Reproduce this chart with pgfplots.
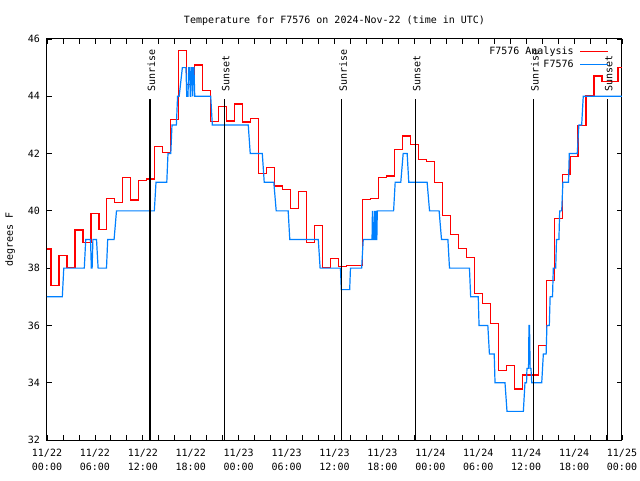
\documentclass[border=0pt]{standalone}
\usepackage{fontspec}
\setmainfont{DejaVu Sans Mono}
\setmonofont{DejaVu Sans Mono}
\usepackage{pgfplots}
\pgfplotsset{compat=1.18}
\definecolor{obsblue}{RGB}{0,128,255}
\newcommand{\gfont}{\fontsize{10}{14}\selectfont}
\begin{document}
\begin{tikzpicture}[x=1pt,y=1pt]
\path[use as bounding box] (-47,-40) rectangle (593,440);
\begin{axis}[
  at={(0,0)}, anchor=south west,
  scale only axis, width=575pt, height=401pt,
  xmin=0, xmax=72, ymin=32, ymax=46,
  xtick={0,6,...,72},
  minor xtick={2,4,8,10,14,16,20,22,26,28,32,34,38,40,44,46,50,52,56,58,62,64,68,70},
  xticklabels={{11/22\\00:00},{11/22\\06:00},{11/22\\12:00},{11/22\\18:00},{11/23\\00:00},{11/23\\06:00},{11/23\\12:00},{11/23\\18:00},{11/24\\00:00},{11/24\\06:00},{11/24\\12:00},{11/24\\18:00},{11/25\\00:00}},
  ytick={32,34,...,46},
  tick align=inside,
  major tick length=5pt, minor tick length=5pt,
  tick style={black, line width=0.8pt},
  axis line style={line width=1pt},
  font=\gfont,
  /pgf/number format/assume math mode=true,
  xticklabel style={align=center, font=\gfont, yshift=-6pt},
  yticklabel style={font=\gfont, xshift=-3.5pt},
  title={Temperature for F7576 on 2024-Nov-22 (time in UTC)},
  title style={at={(axis description cs:0.5,1)}, anchor=center, yshift=12pt, font=\gfont},
  ylabel={degrees F},
  ylabel style={at={(axis description cs:-0.0643,0.5)}, anchor=center, font=\gfont},
  legend plot pos=right,
  legend cell align=right,
  legend image code/.code={\draw[#1] (0pt,0pt) -- (28pt,0pt);},
  legend style={at={(axis description cs:1,1)}, anchor=north east, xshift=-13pt, yshift=-6pt,
    draw=none, fill=none, inner sep=0pt, row sep=0pt, column sep=5pt, font=\gfont,
    nodes={inner sep=1pt, text height=8pt, text depth=3pt}},
]
\addplot[red, line width=1.2pt, const plot mark mid] coordinates {
(0,38.67) (1,37.40) (2,38.43) (3,38.03) (4,39.33) (5,38.90) (6,39.91) (7,39.35)
(8,40.44) (9,40.30) (10,41.16) (11,40.38) (12,41.05) (13,41.11) (14,42.26) (15,42.03)
(16,43.20) (17,45.60) (18,44.40) (19,45.09) (20,44.20) (21,43.11) (22,43.64) (23,43.14)
(24,43.73) (25,43.10) (26,43.23) (27,41.30) (28,41.52) (29,40.87) (30,40.75) (31,40.09)
(32,40.68) (33,38.90) (34,39.50) (35,38.02) (36,38.34) (37,38.07) (38,38.10) (39,38.10)
(40,40.41) (41,40.44) (42,41.17) (43,41.22) (44,42.15) (45,42.61) (46,42.33) (47,41.78)
(48,41.72) (49,41.00) (50,39.85) (51,39.18) (52,38.69) (53,38.38) (54,37.12) (55,36.77)
(56,36.07) (57,34.44) (58,34.59) (59,33.78) (60,34.27) (61,34.27) (62,35.30) (63,37.58)
(64,39.74) (65,41.28) (66,41.91) (67,42.97) (68,44.04) (69,44.71) (70,44.51) (71,44.51)
(72,45.01)
};
\addlegendentry{F7576 Analysis}
\addplot[obsblue, line width=1.2pt] coordinates {
(0,37) (1.92,37) (2.1,38) (4.67,38) (4.85,39) (5.45,39) (5.55,38) (5.65,38) (5.75,39)
(6.2,39) (6.4,38) (7.45,38) (7.6,39) (8.4,39) (8.7,40) (13.44,40) (13.65,41) (15.0,41)
(15.15,42) (15.5,42) (15.65,43) (16.2,43) (16.35,44) (16.55,44) (16.95,45) (17.4,45)
(17.5,44) (17.65,44) (17.75,45) (17.85,45) (17.95,44) (18.0,44) (18.05,45) (18.15,45)
(18.25,44) (18.3,45) (18.4,45) (18.5,44) (20.5,44) (20.7,43) (25.2,43) (25.45,42)
(26.96,42) (27.2,41) (28.4,41) (28.7,40) (30.2,40) (30.4,39) (33.97,39) (34.2,38)
(36.75,38) (36.85,37.25) (37.9,37.25) (38.0,38) (39.4,38) (39.6,39) (40.7,39) (40.75,40)
(40.82,39) (40.95,39) (41.0,40) (41.07,39) (41.15,39) (41.2,40) (41.27,39) (41.3,39)
(41.36,40) (43.4,40) (43.6,41) (44.3,41) (44.6,42) (45.1,42) (45.3,41) (47.6,41)
(47.9,40) (49.1,40) (49.4,39) (50.2,39) (50.4,38) (52.9,38) (53.05,37) (54.0,37)
(54.1,36) (55.2,36) (55.4,35) (56.0,35) (56.1,34) (57.35,34) (57.6,33) (59.65,33)
(59.85,34) (60.05,34) (60.1,34.5) (60.3,34.5) (60.35,36) (60.42,36) (60.5,34.5) (60.6,34.5)
(60.7,34) (61.95,34) (62.15,35) (62.5,35) (62.6,36) (62.9,36) (63.0,37) (63.3,37)
(63.4,38) (63.7,38) (63.8,39) (64.1,39) (64.2,40) (64.45,40) (64.6,41) (65.3,41)
(65.4,42) (66.4,42) (66.6,43) (66.95,43) (67.15,44) (72,44)
};
\addlegendentry{F7576}
\addplot[black, line width=1.1pt, forget plot] coordinates {(12.9,32) (12.9,43.9)};
\addplot[black, line width=1.1pt, forget plot] coordinates {(22.2,32) (22.2,43.9)};
\addplot[black, line width=1.1pt, forget plot] coordinates {(36.9,32) (36.9,43.9)};
\addplot[black, line width=1.1pt, forget plot] coordinates {(46.12,32) (46.12,43.9)};
\addplot[black, line width=1.1pt, forget plot] coordinates {(60.9,32) (60.9,43.9)};
\addplot[black, line width=1.1pt, forget plot] coordinates {(70.16,32) (70.16,43.9)};
\node[rotate=90, anchor=west, font=\gfont, inner sep=0pt] at (axis cs:13.08,44.15) {Sunrise};
\node[rotate=90, anchor=west, font=\gfont, inner sep=0pt] at (axis cs:22.38,44.15) {Sunset};
\node[rotate=90, anchor=west, font=\gfont, inner sep=0pt] at (axis cs:37.08,44.15) {Sunrise};
\node[rotate=90, anchor=west, font=\gfont, inner sep=0pt] at (axis cs:46.30,44.15) {Sunset};
\node[rotate=90, anchor=west, font=\gfont, inner sep=0pt] at (axis cs:61.08,44.15) {Sunrise};
\node[rotate=90, anchor=west, font=\gfont, inner sep=0pt] at (axis cs:70.34,44.15) {Sunset};
\end{axis}
\end{tikzpicture}
\end{document}
